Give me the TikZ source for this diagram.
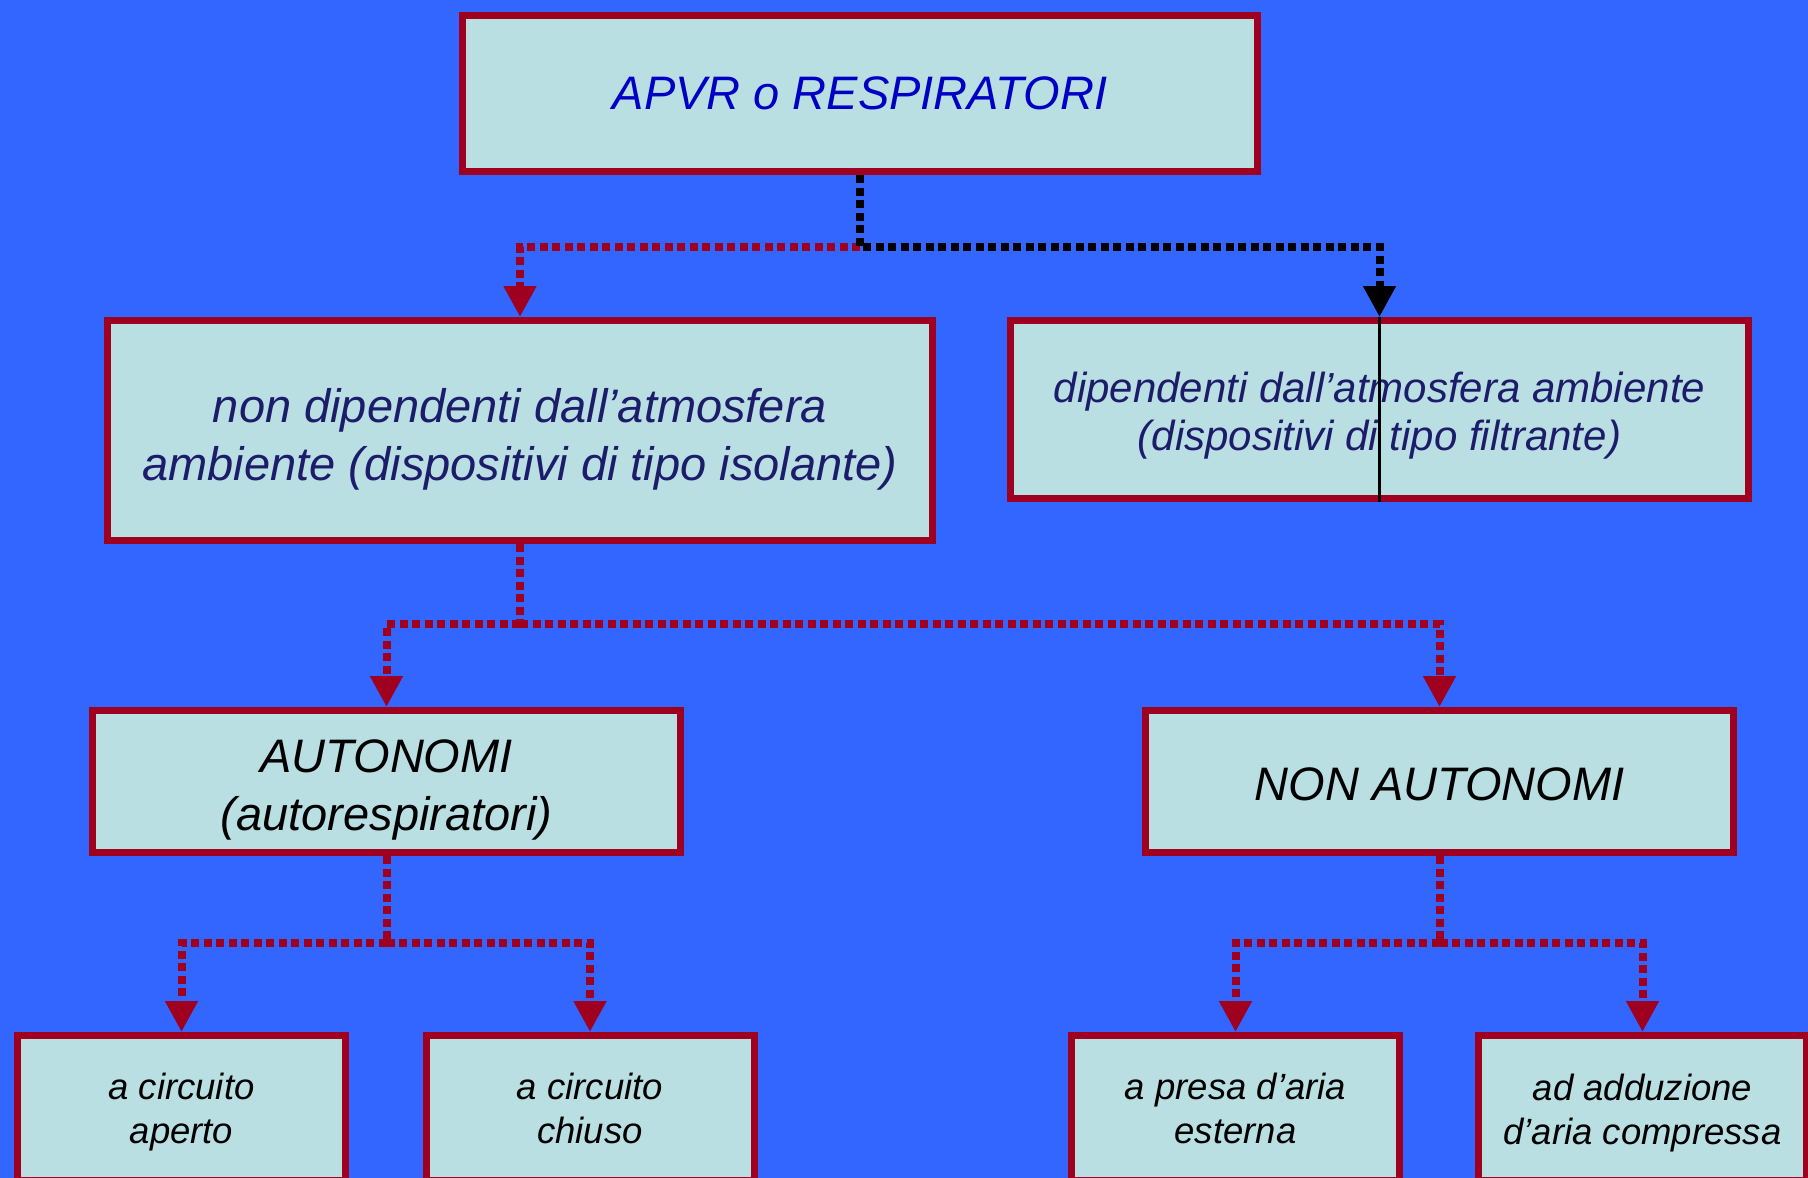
\documentclass[tikz,border=0pt]{standalone}
\usepackage{fontspec}
\setmainfont{Liberation Sans}
\usetikzlibrary{arrows.meta}

\definecolor{bgblue}{HTML}{3366FF}
\definecolor{boxfill}{HTML}{B9DFE3}
\definecolor{boxline}{HTML}{A00020}
\definecolor{titleblue}{HTML}{0000C4}
\definecolor{navytext}{HTML}{1C1C6A}

% invisible rule that sets the height of a first text line
\newcommand{\lineheight}[1]{\rule{0pt}{#1}}

\tikzset{
  box/.style={draw=boxline, fill=boxfill, line width=7pt, inner sep=0pt,
    align=center, font=\itshape, text=black},
  bigtext/.style={font=\itshape\fontsize{47}{58}\selectfont},
  midtext/.style={font=\itshape\fontsize{42}{48}\selectfont},
  smalltext/.style={font=\itshape\fontsize{36.5}{44}\selectfont},
  plaindots/.style={draw=boxline, line width=8pt, dash pattern=on 8pt off 4.5pt,
    line join=miter},
  reddots/.style={plaindots, -{Triangle[width=31pt,length=31pt]}},
  blackdots/.style={reddots, draw=black}
}

\begin{document}
\begin{tikzpicture}[x=1pt,y=-1pt]
  \useasboundingbox (0,0) rectangle (1808,1178);
  \fill[bgblue] (0,0) rectangle (1808,1178);

  % top level
  \node[box, bigtext, text=titleblue, minimum width=795pt, minimum height=156pt]
    (apvr) at (860,93.5) {APVR o RESPIRATORI};

  % second level
  \node[box, bigtext, text=navytext, minimum width=825pt, minimum height=220pt]
    (isol) at (520,430.5) {\lineheight{52pt}non dipendenti dall’atmosfera\\ambiente (dispositivi di tipo isolante)};
  \node[box, midtext, text=navytext, minimum width=738pt, minimum height=178pt]
    (filt) at (1379.5,409.5) {\lineheight{43pt}dipendenti dall’atmosfera ambiente\\(dispositivi di tipo filtrante)};

  % third level
  \node[box, bigtext, minimum width=588pt, minimum height=142pt]
    (auto) at (386.5,781.5) {\lineheight{49pt}AUTONOMI\\(autorespiratori)};
  \node[box, bigtext, minimum width=588pt, minimum height=142pt]
    (nonauto) at (1439.5,781.5) {\lineheight{39pt}NON AUTONOMI};

  % fourth level
  \node[box, smalltext, minimum width=328pt, minimum height=145pt]
    (aperto) at (181.5,1108) {\lineheight{35pt}a circuito\\aperto};
  \node[box, smalltext, minimum width=328pt, minimum height=145pt]
    (chiuso) at (590,1108) {a circuito\\chiuso};
  \node[box, smalltext, minimum width=328pt, minimum height=145pt]
    (esterna) at (1235.5,1108) {a presa d’aria\\esterna};
  \node[box, smalltext, minimum width=328pt, minimum height=145pt]
    (compressa) at (1642.5,1108) {\lineheight{36pt}ad adduzione\\d’aria compressa};

  % junction points of the branches
  \coordinate (j1) at (860,247);
  \coordinate (j2) at (520,624);
  \coordinate (j3) at (386.5,943);
  \coordinate (j4) at (1439.5,943);

  % first branching
  \draw[reddots] (j1) -- (j1 -| isol.north) -- (isol.north);
  \draw[blackdots] (apvr.south) -- (j1) -- (j1 -| filt.north) -- (filt.north);
  \draw[line width=2.5pt] (filt.north) -- (filt.south);

  % second branching
  \draw[plaindots] (isol.south) -- (j2);
  \draw[reddots] (j2) -- (j2 -| auto.north) -- (auto.north);
  \draw[reddots] (j2) -- (j2 -| nonauto.north) -- (nonauto.north);

  % third branching
  \draw[plaindots] (auto.south) -- (j3);
  \draw[reddots] (j3) -- (j3 -| aperto.north) -- (aperto.north);
  \draw[reddots] (j3) -- (j3 -| chiuso.north) -- (chiuso.north);
  \draw[plaindots] (nonauto.south) -- (j4);
  \draw[reddots] (j4) -- (j4 -| esterna.north) -- (esterna.north);
  \draw[reddots] (j4) -- (j4 -| compressa.north) -- (compressa.north);
\end{tikzpicture}
\end{document}
